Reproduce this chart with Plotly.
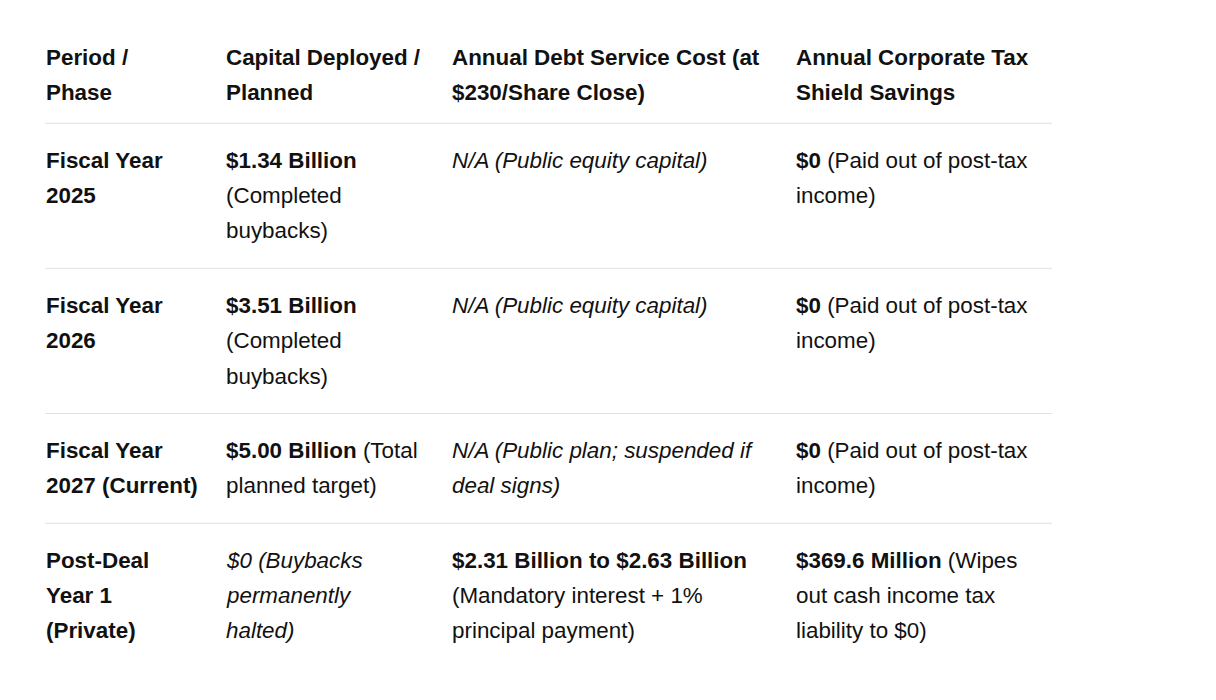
import plotly.graph_objects as go

# table content, one list of text lines per cell (html for bold / italic runs)
headers = [
    ["Period /", "Phase"],
    ["Capital Deployed /", "Planned"],
    ["Annual Debt Service Cost (at", "$230/Share Close)"],
    ["Annual Corporate Tax", "Shield Savings"],
]

periods = [
    ["<b>Fiscal Year</b>", "<b>2025</b>"],
    ["<b>Fiscal Year</b>", "<b>2026</b>"],
    ["<b>Fiscal Year</b>", "<b>2027 (Current)</b>"],
    ["<b>Post-Deal</b>", "<b>Year 1</b>", "<b>(Private)</b>"],
]

capital = [
    ["<b>$1.34 Billion</b>", "(Completed", "buybacks)"],
    ["<b>$3.51 Billion</b>", "(Completed", "buybacks)"],
    ["<b>$5.00 Billion</b> (Total", "planned target)"],
    ["<i>$0 (Buybacks</i>", "<i>permanently</i>", "<i>halted)</i>"],
]

debt_service = [
    ["<i>N/A (Public equity capital)</i>"],
    ["<i>N/A (Public equity capital)</i>"],
    ["<i>N/A (Public plan; suspended if</i>", "<i>deal signs)</i>"],
    ["<b>$2.31 Billion to $2.63 Billion</b>", "(Mandatory interest + 1%", "principal payment)"],
]

tax_shield = [
    ["<b>$0</b> (Paid out of post-tax", "income)"],
    ["<b>$0</b> (Paid out of post-tax", "income)"],
    ["<b>$0</b> (Paid out of post-tax", "income)"],
    ["<b>$369.6 Million</b> (Wipes", "out cash income tax", "liability to $0)"],
]

W, H = 1216, 700
off = 8  # page body margin, so axis units line up with window pixels
col_x = [46, 226, 452, 796]
rule_x0, rule_x1 = 45, 1052
pitch = 35.3
pad_top, pad_bottom = 37, 37.5
font = dict(family="Liberation Sans, Arial, sans-serif", size=22.4, color="#111111")

annotations = []
shapes = []


def add_cell(x, y0, lines):
    for i, line in enumerate(lines):
        annotations.append(dict(
            x=x - 2, y=y0 + i * pitch, xref="x", yref="y",
            text=line, showarrow=False, xanchor="left", yanchor="middle",
            align="left", font=font,
        ))


# header
y = 57
for x, lines in zip(col_x, headers):
    add_cell(x, y, ["<b>" + s + "</b>" for s in lines])
y_rule = y + pitch + 31

rows = list(zip(periods, capital, debt_service, tax_shield))
for row in rows:
    shapes.append(dict(type="line", xref="x", yref="y", x0=rule_x0, x1=rule_x1,
                       y0=y_rule, y1=y_rule, line=dict(color="#e2e2e2", width=1)))
    y = y_rule + pad_top
    for x, lines in zip(col_x, row):
        add_cell(x, y, lines)
    n = max(len(c) for c in row)
    y_rule = y + (n - 1) * pitch + pad_bottom

fig = go.Figure()
fig.update_layout(
    width=W, height=H,
    margin=dict(l=0, r=0, t=0, b=0),
    paper_bgcolor="white", plot_bgcolor="white",
    xaxis=dict(range=[off, W + off], visible=False, fixedrange=True),
    yaxis=dict(range=[H + off, off], visible=False, fixedrange=True),
    annotations=annotations,
    shapes=shapes,
    showlegend=False,
)
fig.write_html("out.html")
